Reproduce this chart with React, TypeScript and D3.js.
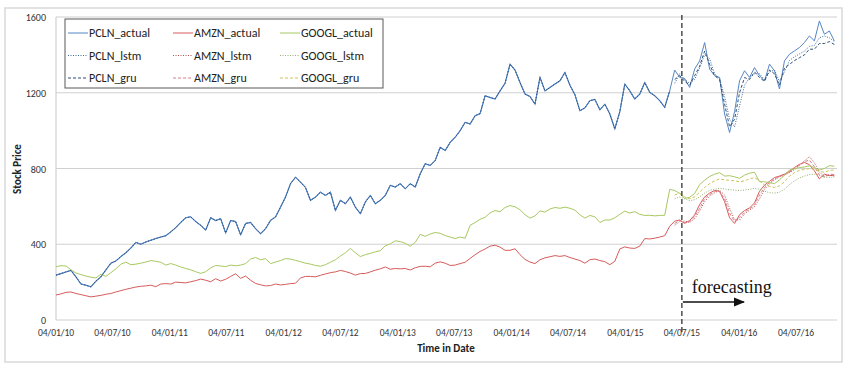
import * as d3 from 'd3';

// tick labels are dd/mm/yy
const tickLabels = [
  '04/01/10', '04/07/10', '04/01/11', '04/07/11', '04/01/12', '04/07/12', '04/01/13',
  '04/07/13', '04/01/14', '04/07/14', '04/01/15', '04/07/15', '04/01/16', '04/07/16',
];
const yTicks = [0, 400, 800, 1200, 1600];
const forecastLabel = '04/07/15';

// one reading every 16 days from 04/01/10
const firstDay = '04/01/10';
const stepDays = 16;

const pclnActual = [
  237, 245, 254, 262, 228, 190, 184, 175, 205, 228,
  265, 300, 312, 335, 355, 380, 410, 400, 412, 421,
  430, 438, 445, 465, 488, 515, 540, 545, 520, 500,
  475, 540, 525, 535, 460, 525, 520, 450, 510, 515,
  482, 456, 482, 526, 544, 596, 649, 720, 754, 728,
  700, 632, 649, 675, 658, 675, 579, 632, 614, 649,
  596, 561, 623, 658, 614, 632, 658, 711, 702, 720,
  693, 720, 702, 772, 825, 816, 842, 912, 895, 938,
  965, 1000, 1044, 1035, 1079, 1090, 1184, 1175, 1167, 1210,
  1250, 1351, 1320, 1254, 1193, 1180, 1140, 1281, 1210, 1228,
  1246, 1263, 1307, 1240, 1190, 1105, 1120, 1158, 1165, 1110,
  1140, 1088, 1009, 1100, 1246, 1210, 1167, 1193, 1254, 1202,
  1184, 1158, 1123, 1210, 1320, 1281, 1275, 1228, 1325, 1368,
  1465, 1325, 1290, 1281, 1088, 990, 1100, 1263, 1316, 1281,
  1333, 1290, 1263, 1351, 1316, 1220, 1368, 1403, 1421, 1439,
  1465, 1500, 1474, 1579, 1509, 1526, 1474,
];

const amznActual = [
  132, 138, 146, 148, 140, 134, 128, 122, 126, 130,
  136, 140, 148, 155, 162, 168, 174, 178, 180, 184,
  176, 190, 192, 190, 200, 198, 196, 202, 208, 216,
  210, 202, 218, 206, 215, 230, 244, 220, 232, 210,
  193, 186, 180, 182, 190, 185, 188, 192, 194, 222,
  230, 230, 228, 236, 243, 250, 254, 262, 256, 248,
  237, 245, 246, 254, 263, 270, 280, 268, 272, 270,
  272, 264, 276, 283, 284, 281, 300, 307, 300, 288,
  290, 298, 305, 325, 345, 362, 375, 390, 395, 385,
  368, 368, 376, 345, 320, 306, 298, 318, 328, 334,
  340, 336, 340, 330, 322, 314, 300, 318, 322, 314,
  308, 292, 310, 375, 386, 380, 378, 390, 430, 428,
  432, 438, 445, 495, 522, 528, 510, 525, 555, 610,
  650, 670, 684, 680, 625, 540, 510, 556, 578, 592,
  618, 680, 712, 732, 752, 760, 770, 784, 805, 822,
  832, 820, 788, 745, 770, 762, 765,
];

const googlActual = [
  281, 287, 285, 265, 248, 240, 232, 226, 222, 242,
  230, 250, 270, 295, 305, 292, 295, 300, 306, 314,
  310, 305, 290, 298, 290, 280, 272, 265, 255, 246,
  255, 275, 288, 285, 282, 290, 286, 290, 298, 322,
  330, 318, 324, 298, 306, 314, 324, 322, 315, 308,
  300, 295, 288, 284, 292, 305, 318, 338, 355, 378,
  355, 335, 345, 352, 360, 366, 392, 402, 418, 414,
  405, 390, 410, 452, 442, 454, 462, 458, 446, 438,
  430, 438, 432, 500, 515, 532, 542, 566, 578, 572,
  594, 604, 598, 582, 556, 538, 550, 576, 570, 586,
  594, 590, 596, 590, 580, 556, 538, 552, 545, 515,
  528, 528, 540, 558, 575, 565, 572, 558, 552, 553,
  550, 552, 553, 690, 684, 668, 642, 648, 668, 715,
  738, 758, 770, 778, 760, 762, 756, 748, 765, 775,
  780, 730, 730, 725, 720, 740, 765, 792, 798, 805,
  808, 814, 805, 792, 800, 815, 812,
];

// model output over the forecast window (reading 124 onwards)
const forecastStart = 124;

const pclnLstm = [
  1250, 1300, 1270, 1250, 1270, 1330, 1400, 1380, 1300, 1275,
  1180, 1060, 1020, 1130, 1240, 1280, 1300, 1300, 1270, 1310,
  1320, 1260, 1310, 1370, 1390, 1405, 1420, 1445, 1450, 1490,
  1500, 1490, 1470,
];
const pclnGru = [
  1270, 1290, 1260, 1240, 1290, 1340, 1420, 1350, 1290, 1270,
  1140, 1020, 1060, 1200, 1280, 1270, 1310, 1280, 1260, 1320,
  1300, 1240, 1330, 1350, 1370, 1385, 1400, 1430, 1430, 1460,
  1460, 1470, 1455,
];
const amznLstm = [
  500, 520, 522, 515, 535, 575, 625, 655, 672, 685,
  660, 590, 530, 528, 560, 580, 598, 640, 690, 718,
  740, 755, 765, 778, 795, 815, 840, 862, 830, 780,
  760, 765, 760,
];
const amznGru = [
  510, 525, 515, 520, 545, 590, 640, 662, 680, 678,
  640, 565, 520, 540, 570, 586, 608, 660, 700, 725,
  746, 758, 768, 780, 800, 818, 836, 845, 810, 765,
  755, 770, 768,
];
const googlLstm = [
  640, 650, 640, 630, 635, 650, 670, 685, 690, 695,
  692, 688, 686, 684, 686, 690, 695, 690, 680, 672,
  670, 675, 690, 715, 735, 750, 760, 768, 770, 765,
  755, 752, 755,
];
const googlGru = [
  660, 670, 650, 640, 650, 675, 700, 720, 735, 745,
  740, 738, 735, 730, 735, 745, 752, 735, 712, 705,
  700, 708, 730, 760, 778, 790, 795, 800, 795, 785,
  780, 790, 792,
];

interface Series {
  name: string;
  values: number[];
  start: number;
  color: string;
  dash?: string;
}

// legend is column-major: one column per ticker
const series: Series[] = [
  { name: 'PCLN_actual', values: pclnActual, start: 0, color: '#5686c4' },
  { name: 'PCLN_lstm', values: pclnLstm, start: forecastStart, color: '#3d679c', dash: '1,1.5' },
  { name: 'PCLN_gru', values: pclnGru, start: forecastStart, color: '#2c4d75', dash: '3,2' },
  { name: 'AMZN_actual', values: amznActual, start: 0, color: '#d65b5b' },
  { name: 'AMZN_lstm', values: amznLstm, start: forecastStart, color: '#b0504a', dash: '1,1.5' },
  { name: 'AMZN_gru', values: amznGru, start: forecastStart, color: '#e07a86', dash: '3,2' },
  { name: 'GOOGL_actual', values: googlActual, start: 0, color: '#a8c860' },
  { name: 'GOOGL_lstm', values: googlLstm, start: forecastStart, color: '#93b070', dash: '1,1.5' },
  { name: 'GOOGL_gru', values: googlGru, start: forecastStart, color: '#cdc25c', dash: '3,2' },
];

const W = 850;
const H = 369;
const margin = { top: 17, right: 13, bottom: 49, left: 56 };
const font = 'Carlito, Calibri, Lato, sans-serif';

const parse = d3.timeParse('%d/%m/%y');

export default function App() {
  const tickDates = tickLabels.map((t) => parse(t) as Date);
  const day0 = parse(firstDay) as Date;
  const dates = pclnActual.map((_, i) => d3.timeDay.offset(day0, i * stepDays));

  // first and last tick pin the axis; data runs a bit past the last tick
  const x = d3
    .scaleTime()
    .domain([tickDates[0], tickDates[tickDates.length - 1]])
    .range([margin.left, 796]);
  const y = d3.scaleLinear().domain([0, 1600]).range([H - margin.bottom, margin.top]);
  const plotRight = W - margin.right;

  const line = d3
    .line<[Date, number]>()
    .x((d) => x(d[0]))
    .y((d) => y(d[1]));

  const pathFor = (s: Series) =>
    line(s.values.map((v, i) => [dates[s.start + i], v] as [Date, number])) || '';

  const forecastX = x(parse(forecastLabel) as Date);

  const legend = { x: 65, y: 19, w: 318, h: 69 };
  const legendCols = [68, 173, 280];
  const legendRows = [33, 55.5, 78];

  return (
    <svg width={W} height={H} style={{ position: 'absolute', left: 0, top: 0, background: '#fff' }}>
      <defs>
        <marker id="arrow" viewBox="0 0 10 10" refX="9" refY="5" markerWidth="7" markerHeight="7" orient="auto">
          <path d="M0,1 L10,5 L0,9 z" fill="#111" />
        </marker>
      </defs>
      <rect x={5} y={8} width={837} height={354} fill="#fff" stroke="#d9d9d9" strokeWidth={1.5} />

      {/* gridlines */}
      {yTicks.map((t) => (
        <g key={t}>
          <line x1={margin.left} x2={plotRight} y1={y(t)} y2={y(t)} stroke="#d0d0d0" strokeWidth={1.2} />
          <text x={46} y={y(t) + 4} textAnchor="end" fontSize={10} fontFamily={font} fill="#333">
            {t}
          </text>
        </g>
      ))}
      <line x1={margin.left} x2={margin.left} y1={y(0)} y2={y(1600)} stroke="#d0d0d0" strokeWidth={1.2} />

      {tickDates.map((d, i) => (
        <text key={i} x={x(d)} y={336} textAnchor="middle" fontSize={9.5} fontFamily={font} fill="#333">
          {tickLabels[i]}
        </text>
      ))}

      <text x={446} y={352} textAnchor="middle" fontSize={11} fontWeight="bold" fontFamily={font} fill="#222">
        Time in Date
      </text>
      <text
        transform={`translate(21,169) rotate(-90)`}
        textAnchor="middle"
        fontSize={11}
        fontWeight="bold"
        fontFamily={font}
        fill="#222"
      >
        Stock Price
      </text>

      {/* PCLN training fit looks darker in the source */}
      <path
        d={pathFor({ ...series[0], values: pclnActual.slice(0, forecastStart) })}
        fill="none"
        stroke="#5686c4"
        strokeWidth={1.1}
      />
      {series.map((s) => (
        <path
          key={s.name}
          d={pathFor(s)}
          fill="none"
          stroke={s.color}
          strokeWidth={1}
          strokeDasharray={s.dash}
        />
      ))}
      <path
        d={pathFor({ ...series[0], values: pclnActual.slice(0, forecastStart) })}
        fill="none"
        stroke="#23436e"
        strokeWidth={0.9}
        strokeDasharray="1,2"
      />

      {/* forecast marker */}
      <line x1={forecastX} x2={forecastX} y1={15} y2={333} stroke="#333" strokeWidth={1.3} strokeDasharray="5,3" />
      <text x={forecastX + 10} y={293} fontSize={18} fontFamily="'Liberation Serif', serif" fill="#111">
        forecasting
      </text>
      <line
        x1={forecastX + 1}
        x2={forecastX + 62}
        y1={302}
        y2={302}
        stroke="#111"
        strokeWidth={1.6}
        markerEnd="url(#arrow)"
      />

      {/* legend */}
      <rect x={legend.x} y={legend.y} width={legend.w} height={legend.h} fill="#fff" stroke="#595959" strokeWidth={1} />
      {series.map((s, i) => {
        const cx = legendCols[Math.floor(i / 3)];
        const cy = legendRows[i % 3];
        return (
          <g key={s.name}>
            <line x1={cx} x2={cx + 20} y1={cy} y2={cy} stroke={s.color} strokeWidth={1} strokeDasharray={s.dash} />
            <text x={cx + 21} y={cy + 4} fontSize={12} fontFamily={font} fill="#222">
              {s.name}
            </text>
          </g>
        );
      })}
    </svg>
  );
}
